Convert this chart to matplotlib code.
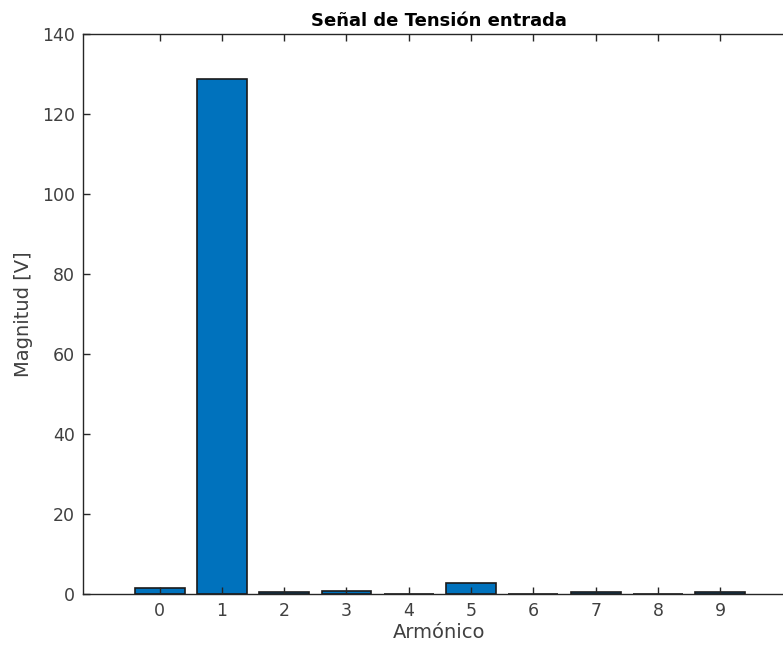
import numpy as np
import matplotlib.pyplot as plt

plt.rcParams['font.family'] = ['DejaVu Sans']

armonicos = [0, 1, 2, 3, 4, 5, 6, 7, 8, 9]
magnitud = [1.5, 128.8, 0.4, 0.75, 0.0, 2.8, 0.0, 0.4, 0.0, 0.4]

fig = plt.figure(figsize=(7.83, 6.57), dpi=100)
ax = fig.add_axes([83/783, 63/657, 712/783, 560/657])

ax.bar(armonicos, magnitud, width=0.8, color='#0072BD', edgecolor='#1a1a1a', linewidth=1.2)

ax.set_xlim(-1.23, 10.2)
ax.set_ylim(0, 140)
ax.set_xticks(armonicos)
ax.set_yticks(np.arange(0, 141, 20))

ax.tick_params(direction='in', length=5, width=1, colors='#262626', labelsize=12.5,
               top=True, right=True, labelcolor='#404040', pad=6)
for s in ax.spines.values():
    s.set_color('#262626')
    s.set_linewidth(1)

ax.set_title('Señal de Tensión entrada', fontsize=13, fontweight='bold', color='black', pad=6)
ax.set_xlabel('Armónico', fontsize=14, color='#404040', labelpad=2)
ax.set_ylabel('Magnitud [V]', fontsize=14, color='#404040', labelpad=6)

fig.savefig('out.png', dpi=100)
